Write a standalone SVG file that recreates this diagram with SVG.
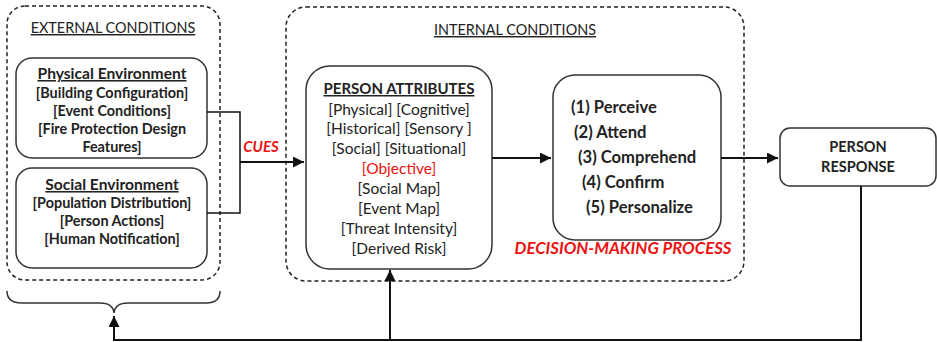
<svg xmlns="http://www.w3.org/2000/svg" width="937" height="342" viewBox="0 0 937 342">
<style>
.dash{fill:none;stroke:#222;stroke-width:1.5;stroke-dasharray:4 3}
.box{fill:#fff;stroke:#333;stroke-width:1.5}
.ln{fill:none;stroke:#111;stroke-width:2}
.t{font-family:Lato,"Open Sans",sans-serif;fill:#222;text-anchor:middle}
.s{text-anchor:start}
.b{font-weight:bold}
.red{fill:#ee1111}
.u{text-decoration:underline}
</style>
<defs>
<marker id="ah" viewBox="0 0 10 10" refX="10" refY="5" markerWidth="5.5" markerHeight="5.5" orient="auto" markerUnits="strokeWidth">
<path d="M0,0 L10,5 L0,10 z" fill="#111"/>
</marker>
</defs>
<rect width="937" height="342" fill="#fff"/>

<g id="external">
<rect class="dash" x="7" y="6" width="213" height="274" rx="18"/>
<text class="t u" x="113" y="33" font-size="14.4">EXTERNAL CONDITIONS</text>
</g>

<g id="physical">
<rect class="box" x="16" y="58" width="191" height="100" rx="16"/>
<text class="t b u" x="112" y="79" font-size="15.6">Physical Environment</text>
<text class="t b" x="112" y="98" font-size="14.4">[Building Configuration]</text>
<text class="t b" x="112" y="116" font-size="14.4">[Event Conditions]</text>
<text class="t b" x="112" y="134" font-size="14.4">[Fire Protection Design</text>
<text class="t b" x="112" y="152" font-size="14.4">Features]</text>
</g>

<g id="social">
<rect class="box" x="16" y="168" width="191" height="100" rx="16"/>
<text class="t b u" x="112" y="190" font-size="15.6">Social Environment</text>
<text class="t b" x="112" y="208" font-size="14.4">[Population Distribution]</text>
<text class="t b" x="112" y="226" font-size="14.4">[Person Actions]</text>
<text class="t b" x="112" y="244" font-size="14.4">[Human Notification]</text>
</g>

<g id="internal">
<rect class="dash" x="286" y="7" width="458" height="274" rx="20"/>
<text class="t u" x="515" y="35" font-size="14.4">INTERNAL CONDITIONS</text>
</g>

<g id="person-attributes">
<rect class="box" x="306" y="66" width="186" height="203" rx="24"/>
<text class="t b u" x="399" y="94" font-size="15">PERSON ATTRIBUTES</text>
<text class="t" x="399" y="115" font-size="15.5">[Physical] [Cognitive]</text>
<text class="t" x="399" y="134" font-size="15.5">[Historical] [Sensory ]</text>
<text class="t" x="399" y="154" font-size="15.5">[Social] [Situational]</text>
<text class="t red" x="399" y="174" font-size="15.5">[Objective]</text>
<text class="t" x="399" y="194" font-size="15.5">[Social Map]</text>
<text class="t" x="399" y="214" font-size="15.5">[Event Map]</text>
<text class="t" x="399" y="234" font-size="15.5">[Threat Intensity]</text>
<text class="t" x="399" y="254" font-size="15.5">[Derived Risk]</text>
</g>

<g id="decision">
<rect class="box" x="553" y="75" width="168" height="165" rx="22"/>
<text class="t b s" x="571" y="113" font-size="16.6">(1) Perceive</text>
<text class="t b s" x="574" y="138" font-size="16.6">(2) Attend</text>
<text class="t b s" x="578" y="163" font-size="16.6">(3) Comprehend</text>
<text class="t b s" x="582" y="188" font-size="16.6">(4) Confirm</text>
<text class="t b s" x="586" y="213" font-size="16.6">(5) Personalize</text>
<text class="t b red" x="623" y="254" font-size="16.8" font-style="italic">DECISION-MAKING PROCESS</text>
</g>

<g id="person-response">
<rect class="box" x="780" y="128" width="156" height="58" rx="10"/>
<text class="t b" x="858" y="152" font-size="14.5">PERSON</text>
<text class="t b" x="858" y="172" font-size="14.5">RESPONSE</text>
</g>

<g id="connectors">
<path class="ln" style="stroke-width:1.5" d="M207,112 H240 V213 H207"/>
<path class="ln" d="M240,162 H304" marker-end="url(#ah)"/>
<text class="t b red" x="261" y="152" font-size="15" font-style="italic">CUES</text>
<path class="ln" d="M492,158 H551" marker-end="url(#ah)"/>
<path class="ln" d="M721,158 H778" marker-end="url(#ah)"/>
<path class="ln" d="M861,186 V340 H114 V316" marker-end="url(#ah)"/>
<path class="ln" d="M390,340 V270" marker-end="url(#ah)"/>
<path class="ln" style="stroke-width:1.5;stroke:#333" d="M7,291 Q7,303 22,303 H100 Q113,303 114,313 Q115,303 128,303 H206 Q220,303 220,291"/>
</g>
</svg>
